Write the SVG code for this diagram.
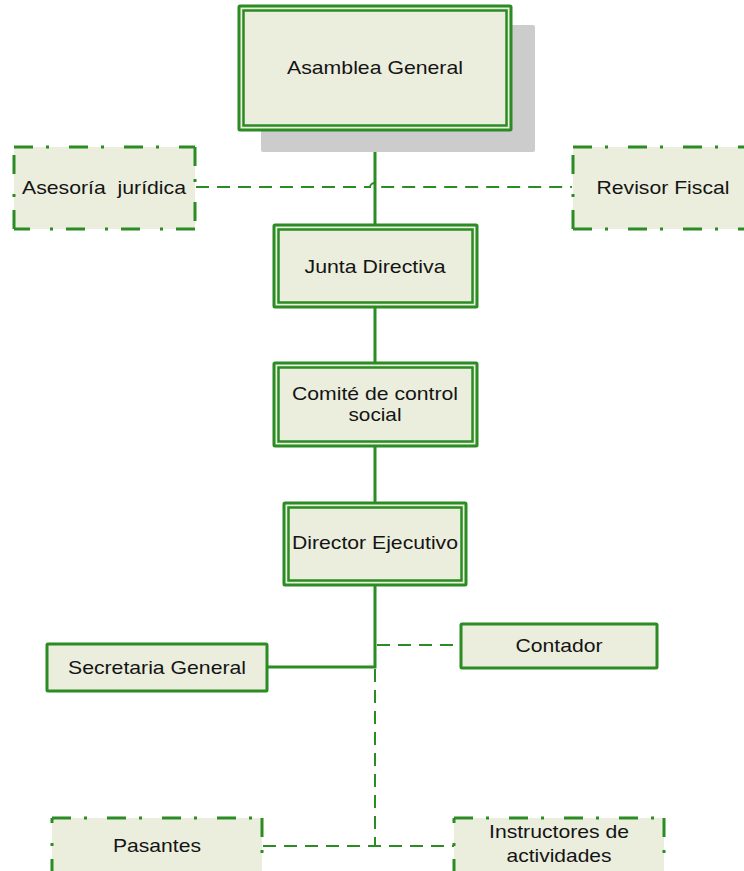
<svg xmlns="http://www.w3.org/2000/svg" width="744" height="871" viewBox="0 0 744 871">
  <style>
    .box { fill: #ebeedd; stroke: #2a8c22; stroke-width: 3; }
    .inner { fill: none; stroke: #2a8c22; stroke-width: 2.5; }
    .dashdot { fill: none; stroke: #2a8c22; stroke-width: 3; stroke-dasharray: 19 13 3 20; }
    .fill { fill: #ebeedd; stroke: none; }
    .solid { fill: none; stroke: #2a8c22; stroke-width: 3; }
    .dash { fill: none; stroke: #2a8c22; stroke-width: 2; stroke-dasharray: 13 8; }
    text { font-family: "Liberation Sans", Arial, sans-serif; font-size: 19px; fill: #141414; text-anchor: middle; white-space: pre; }
  </style>

  <!-- connectors -->
  <g id="connectors">
    <line class="solid" x1="375" y1="130" x2="375" y2="225"/>
    <line class="solid" x1="375" y1="307" x2="375" y2="363"/>
    <line class="solid" x1="375" y1="446" x2="375" y2="503"/>
    <polyline class="solid" points="375,585 375,667 267,667"/>
    <path class="dash" d="M196,187 H370 a5,4 0 0 1 10,0 H572"/>
    <line class="dash" x1="377" y1="645" x2="461" y2="645"/>
    <line class="dash" x1="375" y1="669" x2="375" y2="846"/>
    <line class="dash" x1="263" y1="846" x2="454" y2="846"/>
  </g>

  <!-- Asamblea General with drop shadow -->
  <g id="asamblea">
    <rect x="261" y="25" width="274" height="127" rx="2" fill="#cccccc"/>
    <rect class="box" x="239" y="6" width="272" height="124" rx="1"/>
    <rect class="inner" x="243.5" y="10.5" width="263" height="115"/>
    <text x="375" y="74" textLength="176" lengthAdjust="spacingAndGlyphs">Asamblea General</text>
  </g>

  <g id="asesoria">
    <rect class="fill" x="14" y="147" width="181" height="82"/>
    <path class="dashdot" d="M14,147 H195 M195,147 V229 M195,229 H14 M14,229 V147"/>
    <text x="104" y="194" textLength="164" lengthAdjust="spacingAndGlyphs" xml:space="preserve">Asesoría  jurídica</text>
  </g>

  <g id="revisor">
    <rect class="fill" x="573" y="147" width="180" height="82"/>
    <path class="dashdot" d="M573,147 H753 M573,229 H753 M573,229 V147"/>
    <text x="663" y="194" textLength="133" lengthAdjust="spacingAndGlyphs">Revisor Fiscal</text>
  </g>

  <g id="junta">
    <rect class="box" x="274" y="225" width="203" height="82" rx="1"/>
    <rect class="inner" x="278.5" y="229.5" width="194" height="73"/>
    <text x="375" y="273" textLength="141" lengthAdjust="spacingAndGlyphs">Junta Directiva</text>
  </g>

  <g id="comite">
    <rect class="box" x="274" y="363" width="203" height="83" rx="1"/>
    <rect class="inner" x="278.5" y="367.5" width="194" height="74"/>
    <text x="375" y="400" textLength="166" lengthAdjust="spacingAndGlyphs">Comité de control</text>
    <text x="375" y="421" textLength="53" lengthAdjust="spacingAndGlyphs">social</text>
  </g>

  <g id="director">
    <rect class="box" x="284" y="503" width="182" height="82" rx="1"/>
    <rect class="inner" x="288.5" y="507.5" width="173" height="73"/>
    <text x="375" y="549" textLength="166" lengthAdjust="spacingAndGlyphs">Director Ejecutivo</text>
  </g>

  <g id="secretaria">
    <rect class="box" x="47" y="644" width="220" height="47" rx="1"/>
    <text x="157" y="674" textLength="178" lengthAdjust="spacingAndGlyphs">Secretaria General</text>
  </g>

  <g id="contador">
    <rect class="box" x="461" y="624" width="196" height="44" rx="1"/>
    <text x="559" y="652" textLength="87" lengthAdjust="spacingAndGlyphs">Contador</text>
  </g>

  <g id="pasantes">
    <rect class="fill" x="52" y="818" width="210" height="60"/>
    <path class="dashdot" d="M52,818 H262 M262,818 V878 M52,878 V818"/>
    <text x="157" y="852" textLength="88" lengthAdjust="spacingAndGlyphs">Pasantes</text>
  </g>

  <g id="instructores">
    <rect class="fill" x="454" y="818" width="210" height="60"/>
    <path class="dashdot" d="M454,818 H664 M664,818 V878 M454,878 V818"/>
    <text x="559" y="838" textLength="140" lengthAdjust="spacingAndGlyphs">Instructores de</text>
    <text x="559" y="862" textLength="105" lengthAdjust="spacingAndGlyphs">actividades</text>
  </g>
</svg>
